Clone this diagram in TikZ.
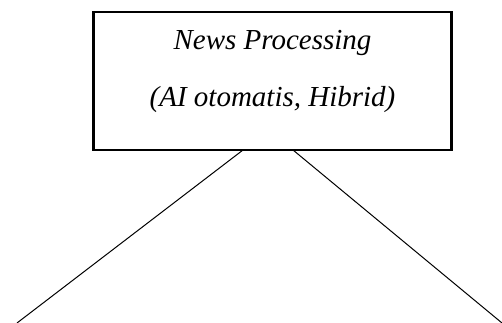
\documentclass[tikz,border=0pt]{standalone}
\usepackage{fontspec}
\setmainfont{Liberation Serif}
\begin{document}
\begin{tikzpicture}[x=1pt,y=1pt,
  boxstyle/.style={draw=black,line width=2.6pt,inner sep=0pt,minimum width=357.6pt,minimum height=138pt},
  labelstyle/.style={anchor=base,inner sep=0pt,font=\fontsize{29}{34}\selectfont\itshape},
  linkstyle/.style={draw=black,line width=1pt}]
\useasboundingbox (0,0) rectangle (502,323);
\node[boxstyle] (box) at (272.5,242) {};
\node[labelstyle] (t1) at (272.5,273) {News Processing};
\node[labelstyle] (t2) at (272.5,216) {(AI otomatis, Hibrid)};
\coordinate (l0) at (243,173);
\coordinate (r0) at (293,173);
\coordinate (l1) at (17,0);
\coordinate (r1) at (502,0);
\draw[linkstyle] (l0) -- (l1);
\draw[linkstyle] (r0) -- (r1);
\end{tikzpicture}
\end{document}
